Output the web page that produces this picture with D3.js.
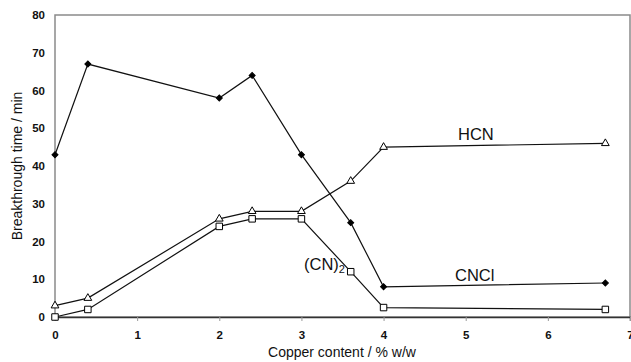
<!DOCTYPE html>
<html>
<head>
<meta charset="utf-8">
<script src="https://cdn.jsdelivr.net/npm/d3@7"></script>
<style>
  body { margin: 0; background: #fff; }
  text { font-family: "Liberation Sans", Arial, sans-serif; }
</style>
</head>
<body>
<div id="chart"></div>
<script>
// copper content, % w/w
const copper = [0, 0.4, 2, 2.4, 3, 3.6, 4, 6.7];
const cnclTimes = [43, 67, 58, 64, 43, 25, 8, 9];
const hcnTimes = [3, 5, 26, 28, 28, 36, 45, 46];
const cn2Times = [0, 2, 24, 26, 26, 12, 2.5, 2];
const xTicks = [0, 1, 2, 3, 4, 5, 6, 7];
const yTicks = [0, 10, 20, 30, 40, 50, 60, 70, 80];

const width = 631, height = 362;
const margin = {top: 15, right: 1, bottom: 45, left: 55};

const svg = d3.select('#chart').append('svg')
  .attr('width', width)
  .attr('height', height);

const x = d3.scaleLinear().domain([0, 7]).range([margin.left, width - margin.right]);
const y = d3.scaleLinear().domain([0, 80]).range([height - margin.bottom, margin.top]);

// frame (gray top/right/left)
svg.append('rect')
  .attr('x', x(0)).attr('y', y(80))
  .attr('width', x(7) - x(0)).attr('height', y(0) - y(80))
  .attr('fill', 'none').attr('stroke', '#8a8a8a').attr('stroke-width', 1.5);

// x axis
const xAxis = svg.append('g')
  .attr('transform', `translate(0,${y(0)})`)
  .call(d3.axisBottom(x).tickValues(xTicks).tickSize(4).tickPadding(10).tickFormat(d3.format('d')));
xAxis.select('.domain').attr('stroke', '#333').attr('stroke-width', 1.5);
xAxis.selectAll('.tick line').attr('stroke', '#999');
xAxis.selectAll('text').attr('font-size', 11.5).attr('font-weight', 'bold').attr('fill', '#111');

// y axis
const yAxis = svg.append('g')
  .attr('transform', `translate(${x(0)},0)`)
  .call(d3.axisLeft(y).tickValues(yTicks).tickSize(0).tickPadding(10));
yAxis.select('.domain').remove();
yAxis.selectAll('text').attr('font-size', 11.5).attr('font-weight', 'bold').attr('fill', '#111');

// axis titles
svg.append('text')
  .attr('x', 342).attr('y', 357)
  .attr('text-anchor', 'middle').attr('font-size', 14).attr('fill', '#111')
  .text('Copper content / % w/w');
svg.append('text')
  .attr('transform', `translate(22,${(y(0) + y(80)) / 2}) rotate(-90)`)
  .attr('text-anchor', 'middle').attr('font-size', 14).attr('fill', '#111')
  .text('Breakthrough time / min');

const line = d3.line().x(d => x(d[0])).y(d => y(d[1]));

function drawSeries(vals, symbolType, filled, size, angle) {
  const pts = copper.map((c, i) => [c, vals[i]]);
  svg.append('path').datum(pts)
    .attr('d', line).attr('fill', 'none').attr('stroke', '#111').attr('stroke-width', 1.2);
  svg.selectAll(null).data(pts).enter().append('path')
    .attr('transform', d => `translate(${x(d[0])},${y(d[1])}) rotate(${angle})`)
    .attr('d', d3.symbol().type(symbolType).size(size))
    .attr('fill', filled ? '#000' : '#fff')
    .attr('stroke', '#000').attr('stroke-width', 1);
}

drawSeries(hcnTimes, d3.symbolTriangle, false, 26, 0);
drawSeries(cn2Times, d3.symbolSquare, false, 42, 0);
drawSeries(cnclTimes, d3.symbolSquare, true, 18, 45);

// series labels
svg.append('text').attr('x', 458).attr('y', 140).attr('font-size', 16.5).attr('fill', '#111').text('HCN');
svg.append('text').attr('x', 455).attr('y', 281).attr('font-size', 16.5).attr('fill', '#111').text('CNCl');
const cnLabel = svg.append('text').attr('x', 304).attr('y', 270)
  .attr('font-size', 16.5).attr('fill', '#111');
cnLabel.append('tspan').text('(CN)');
cnLabel.append('tspan').attr('font-size', 11).attr('dy', 3).text('2');
</script>
</body>
</html>
